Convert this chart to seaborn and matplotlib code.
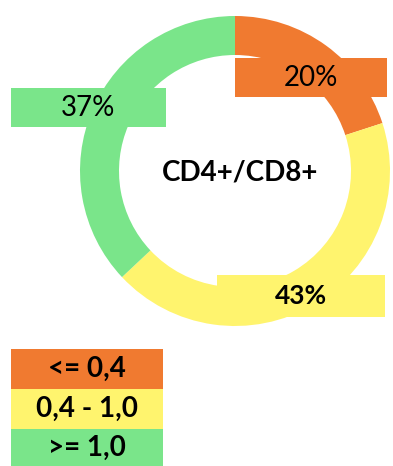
import matplotlib
matplotlib.use("Agg")
import matplotlib.pyplot as plt
import seaborn as sns

# Share of patients per CD4+/CD8+ ratio class
categories = ["<= 0,4", "0,4 - 1,0", ">= 1,0"]
shares = [20, 43, 37]
colors = ["#F07A30", "#FFF46E", "#7AE58A"]
title = "CD4+/CD8+"

sns.set_theme(style="white")
plt.rcParams["font.family"] = ["Lato", "DejaVu Sans"]

W, H = 393, 466
fig = plt.figure(figsize=(W / 100, H / 100), dpi=100)
fig.patch.set_facecolor("white")
ax = fig.add_axes([0, 0, 1, 1])

# Pixel-based coordinate frame (y measured from the bottom)
cx, cy, r, ring = 235, H - 171, 155, 39
wedges, _ = ax.pie(
    shares,
    colors=colors,
    startangle=90,
    counterclock=False,
    radius=r,
    center=(cx, cy),
    wedgeprops=dict(width=ring, linewidth=0),
)
ax.set_xlim(0, W)
ax.set_ylim(0, H)
ax.set_aspect("equal")
ax.axis("off")

# Center title
ax.text(cx + 5, H - 173, title, ha="center", va="center",
        fontsize=20, fontweight="bold", color="black")


def box_label(x0, y0, x1, y1, color, text, bold, size):
    ax.add_patch(plt.Rectangle((x0, H - y1), x1 - x0, y1 - y0,
                               facecolor=color, edgecolor="none", zorder=5))
    ax.text((x0 + x1) / 2, H - (y0 + y1) / 2, text, ha="center", va="center",
            fontsize=size, fontweight="bold" if bold else "normal",
            color="black", zorder=6)


# Percentage labels on the slices
box_label(235, 58, 387, 97, colors[0], f"{shares[0]}%", False, 20)
box_label(217, 275, 385, 317, colors[1], f"{shares[1]}%", True, 19)
box_label(11, 88, 166, 127, colors[2], f"{shares[2]}%", False, 20)

# Legend as stacked colored boxes
legend_rows = [(349, 389), (389, 429), (429, 466)]
for (y0, y1), col, cat in zip(legend_rows, colors, categories):
    box_label(11, y0, 163, y1, col, cat, True, 20)

fig.savefig("out.png", dpi=100, facecolor="white")
